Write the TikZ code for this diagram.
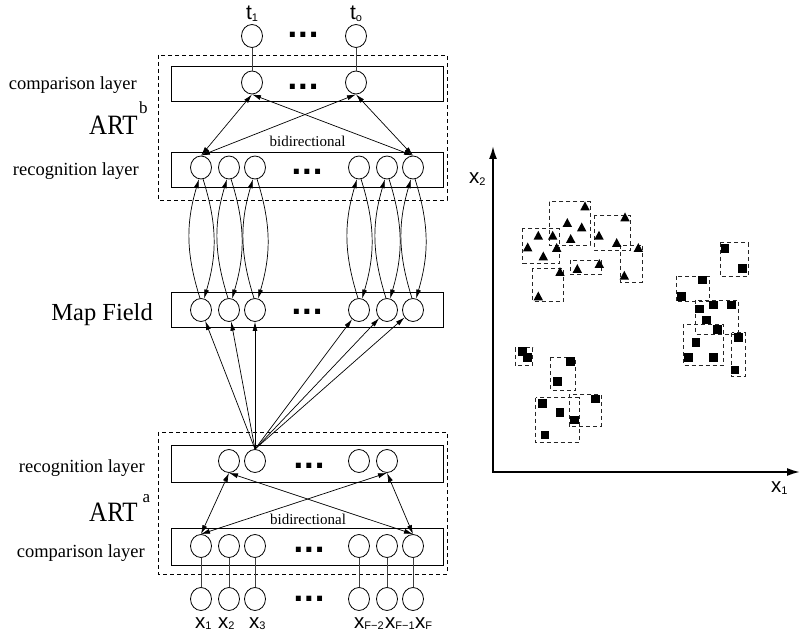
\documentclass[tikz,border=0pt]{standalone}
\usepackage{fontspec}
\setmainfont{Liberation Serif}
\setsansfont{Liberation Sans}
\newfontfamily\dotfont{DejaVu Sans}
\usetikzlibrary{shapes.geometric,arrows.meta}

\tikzset{
  neuron/.style={draw, ellipse, minimum width=21pt, minimum height=23pt, inner sep=0pt, line width=0.8pt},
  layerbox/.style={draw, rectangle, minimum width=272pt, inner sep=0pt, line width=0.8pt},
  artbox/.style={draw, dash pattern=on 4pt off 3pt, line width=0.8pt},
  onearrow/.style={-{Latex[length=9pt,width=5pt]}},
  twoarrow/.style={{Latex[length=9pt,width=5pt]}-{Latex[length=9pt,width=5pt]}},
  link/.style={line width=0.7pt},
  feed/.style={draw=black!75, line width=0.8pt},
  sidelabel/.style={anchor=base east, inner sep=0pt, font=\fontsize{18.5}{20}\selectfont},
  artlabel/.style={anchor=base west, inner sep=0pt},
  dots/.style={anchor=base, inner sep=0pt, font=\dotfont\bfseries\fontsize{28}{28}\selectfont},
  bidir/.style={inner sep=0pt, font=\fontsize{15}{16}\selectfont},
  varlabel/.style={anchor=base west, inner sep=0pt, font=\sffamily\fontsize{20.5}{21}\selectfont},
  outlabel/.style={anchor=base, inner sep=0pt, font=\sffamily\fontsize{21}{21}\selectfont},
  cluster/.style={draw=black!85, dash pattern=on 4pt off 3pt, line width=0.9pt},
  axisline/.style={line width=1.8pt, {Latex[length=13pt,width=8pt]}-{Latex[length=13pt,width=8pt]}},
  trimark/.pic={\fill (-4.7,3.6) -- (4.7,3.6) -- (0,-5.2) -- cycle;},
  sqmark/.pic={\fill (-4.4,-4.4) rectangle (4.4,4.4);},
}
\newcommand\subsf[1]{\raisebox{-1.5pt}{\fontsize{11}{11}\selectfont #1}}
\newcommand\artname[3]{\scalebox{1}[1.12]{\fontsize{25}{25}\selectfont ART}\hspace{#2}\raisebox{#3}{\fontsize{17}{17}\selectfont #1}}

\begin{document}
\begin{tikzpicture}[x=1pt, y=-1pt]
\useasboundingbox (0,0) rectangle (804,636);

% ---------------- ART^b module ----------------
\draw[artbox] (158,55) rectangle (447,200);
\node[layerbox, minimum height=35.5pt] (cmpB) at (307,84) {};
\node[layerbox, minimum height=35pt] (recB) at (307,169.5) {};

\node[neuron] (o1) at (252,36) {};
\node[neuron] (o2) at (356,36) {};
\node[neuron] (cb1) at (252,82.5) {};
\node[neuron] (cb2) at (356,82.5) {};

\node[outlabel] (t1) at (252,20) {t\subsf{1}};
\node[outlabel] (t2) at (356,20) {t\subsf{o}};

% ---------------- Map field ----------------
\node[layerbox, minimum height=35pt] (mapF) at (307,309.5) {};

% ---------------- ART^a module ----------------
\draw[artbox] (158,432) rectangle (447,574);
\node[layerbox, minimum height=37pt] (recA) at (307,463.5) {};
\node[layerbox, minimum height=37pt] (cmpA) at (307,546.5) {};

\foreach \i/\x in {1/201,2/229,3/255,4/359,5/387,6/413} {
  \node[neuron] (rb\i) at (\x,167.5) {};
  \node[neuron] (m\i) at (\x,310) {};
  \node[neuron] (ca\i) at (\x,546) {};
  \node[neuron] (in\i) at (\x,599) {};
}
\foreach \i/\x in {1/229,2/255,3/359,4/387}
  \node[neuron] (ra\i) at (\x,461) {};

% ellipsis marks in each row
\node[dots] (d1) at (303,38) {...};
\node[dots] (d2) at (303,90) {...};
\node[dots] (d3) at (307,175) {...};
\node[dots] (d4) at (307,315) {...};
\node[dots] (d5) at (309,468) {...};
\node[dots] (d6) at (309,552) {...};
\node[dots] (d7) at (309,601) {...};

% outputs and inputs
\draw[feed] (cb1) -- (o1);
\draw[feed] (cb2) -- (o2);
\foreach \i in {1,...,6}
  \draw[feed] (ca\i) -- (in\i);

% bidirectional links inside ART^b
\foreach \r in {rb1,rb6}
  \foreach \c in {cb1,cb2}
    \draw[link,twoarrow] (\r.north) -- (\c.south);
\node[bidir] (bdB) at (307.5,141) {bidirectional};

% bidirectional links inside ART^a
\foreach \r in {ra1,ra4}
  \foreach \c in {ca1,ca6}
    \draw[link,twoarrow] (\r.south) -- (\c.north);
\node[bidir] (bdA) at (308,519.5) {bidirectional};

% map field <-> recognition layer of ART^b
\foreach \i in {1,...,6} {
  \draw[link,onearrow] (m\i.95) to[bend left=17] (rb\i.-100);
  \draw[link,onearrow] (rb\i.-80) to[bend left=17] (m\i.75);
}

% ART^a category node feeding the map field
\foreach \i in {1,...,6}
  \draw[link,onearrow] (ra2.north) -- (m\i);

% input labels
\node[varlabel] (x1) at (195,628) {x\subsf{1}};
\node[varlabel] (x2) at (218,628) {x\subsf{2}};
\node[varlabel] (x3) at (249,628) {x\subsf{3}};
\node[varlabel] (x4) at (354,628) {x\subsf{F−2}};
\node[varlabel] (x5) at (385,628) {x\subsf{F−1}};
\node[varlabel] (x6) at (415,628) {x\subsf{F}};

% layer labels
\node[sidelabel] (lcB) at (137,90) {comparison layer};
\node[sidelabel] (lrB) at (139,176) {recognition layer};
\node[sidelabel, font=\fontsize{24.5}{26}\selectfont] (lmap) at (153,321) {Map Field};
\node[sidelabel] (lrA) at (145,472) {recognition layer};
\node[sidelabel] (lcA) at (145,557) {comparison layer};
\node[artlabel] (artB) at (89,135) {\artname{b}{1.5pt}{21pt}};
\node[artlabel] (artA) at (89,521.5) {\artname{a}{5pt}{18.5pt}};

% ---------------- feature space ----------------
\coordinate (O) at (493,472);
\coordinate (ytop) at (493,146);
\coordinate (xend) at (800,472);
\draw[axisline] (ytop) -- (O) -- (xend);
\node[varlabel] (ax2) at (469,184) {x\subsf{2}};
\node[varlabel] (ax1) at (771,493) {x\subsf{1}};

% category boxes of the triangle class
\draw[cluster] (522.7,228.3) rectangle (559,263.3);
\draw[cluster] (549.3,201.7) rectangle (590,245);
\draw[cluster] (594,215) rectangle (630.7,250);
\draw[cluster] (532.3,268.3) rectangle (563.3,301);
\draw[cluster] (570.7,260) rectangle (601.7,274.3);
\draw[cluster] (620.7,245) rectangle (642.3,282.3);

% category boxes of the square class
\draw[cluster] (720,242.7) rectangle (748.3,276);
\draw[cluster] (676,276) rectangle (709.3,301.7);
\draw[cluster] (695.7,300) rectangle (738.3,334);
\draw[cluster] (683.3,324.3) rectangle (723.3,365);
\draw[cluster] (731.7,332.7) rectangle (745,376.7);
\draw[cluster] (515,347.7) rectangle (532.7,365.3);
\draw[cluster] (550.7,357.3) rectangle (575.7,390);
\draw[cluster] (535.7,397.7) rectangle (579,442.7);
\draw[cluster] (569,394.3) rectangle (601,426);

% triangle samples
\foreach \p in {(585,206.7),(567.3,223.3),(581.7,227.7),(570.7,239.3),
                (538.3,236),(552.7,236),(527.7,247.7),(556.7,248.3),
                (543.3,256.7),(625,217.7),(599,236),(616.7,243.3),
                (638.3,248.3),(560,272.3),(577.3,269.3),(599.3,264.3),
                (624.3,276),(538.3,296.7)}
  \pic at \p {trimark};

% square samples
\foreach \p in {(725,248.3),(742.3,268.3),(702.7,280),(681.7,296.7),
                (699.3,309),(713.3,305),(731.7,305),(706.7,320),
                (717.3,329.3),(738.3,337.3),(696,342.3),(688.3,357.7),
                (713.3,357.7),(735,370),
                (522.3,351.7),(527.7,357.7),(570.7,361.7),(557.3,381.7),
                (542.7,403.3),(560,412.3),(574.3,420),(595.7,399),(545,435)}
  \pic at \p {sqmark};
\end{tikzpicture}
\end{document}
